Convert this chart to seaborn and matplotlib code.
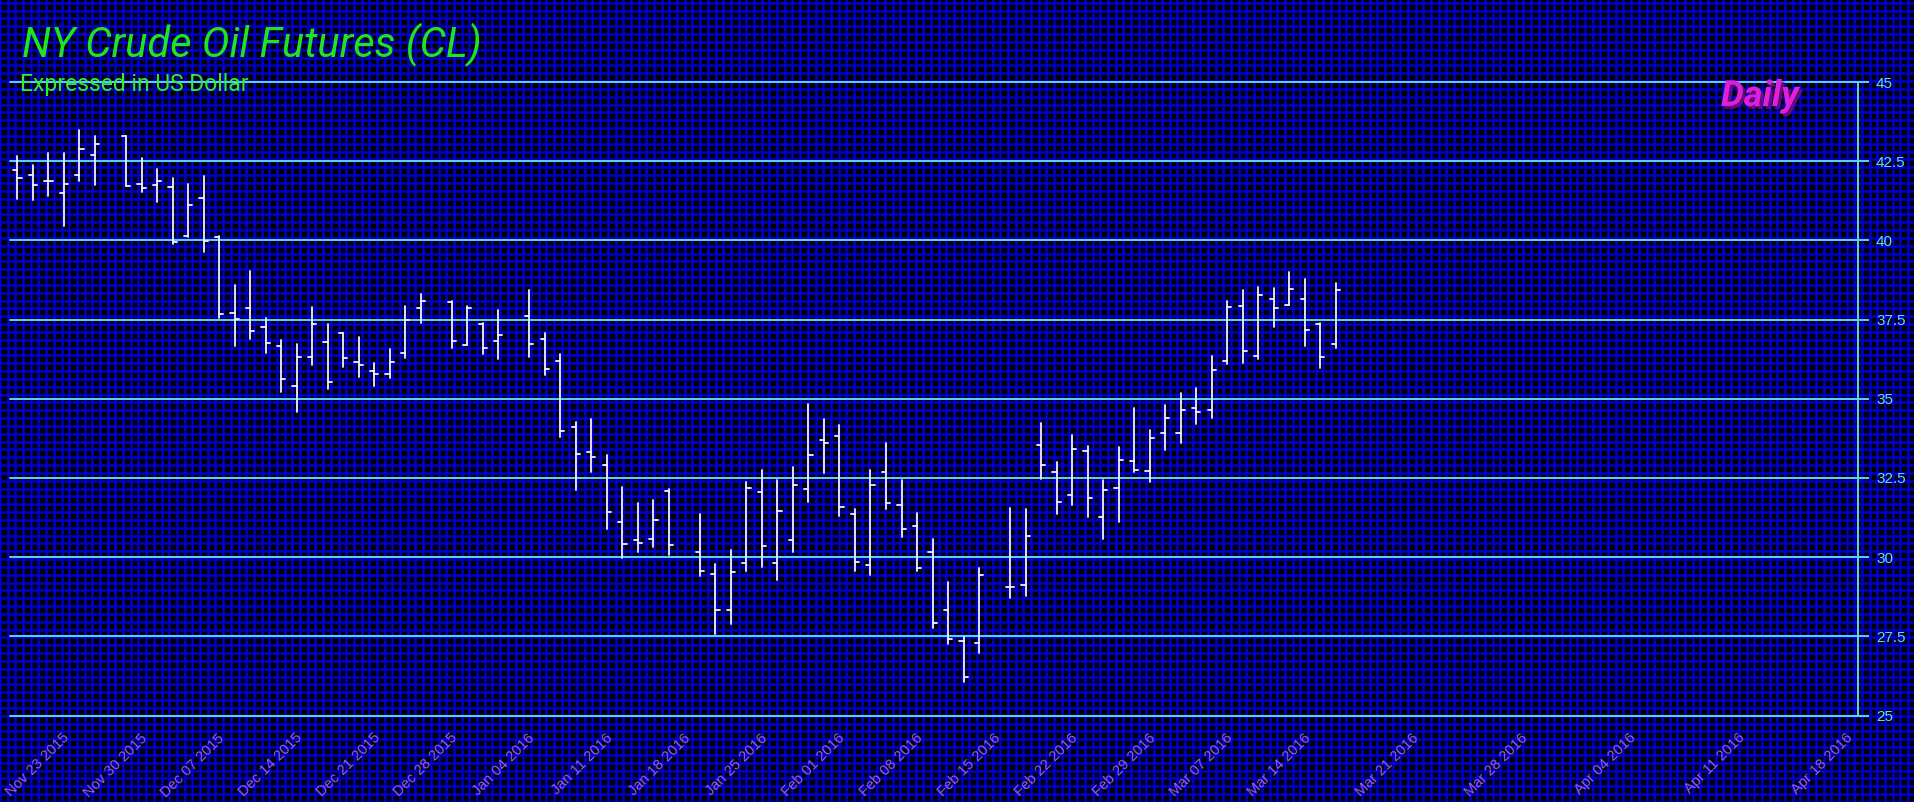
import numpy as np
import pandas as pd
import matplotlib
matplotlib.use("Agg")
import matplotlib.pyplot as plt
import seaborn as sns
from matplotlib import patheffects as pe

# ---------------- data ----------------
holidays = ["2015-11-26", "2015-12-25", "2016-01-01", "2016-01-18", "2016-02-15"]
first_day, last_day = "2015-11-18", "2016-03-16"

opens = [42.21, 42.06, 41.89, 41.51, 42.06, 42.69,
         43.30, 41.77, 41.74, 41.70, 40.15, 41.34, 40.12, 37.72, 37.87, 37.28, 36.65,
         35.41, 36.33, 36.80, 37.07, 36.15, 35.87, 35.79, 36.46, 37.85,
         38.04, 36.69, 37.35, 36.82,
         37.60, 36.90, 36.19, 34.11, 33.33, 32.92, 31.11, 30.55, 30.58, 32.10,
         30.15, 29.48, 28.33, 29.83, 32.05, 29.80, 30.53, 32.14, 33.69,
         33.82, 31.37, 29.75, 32.70, 31.65, 30.97, 30.15, 28.33, 27.34, 27.30,
         29.07, 29.12, 33.55, 32.68, 31.97, 33.36, 31.27, 32.17, 33.05,
         32.73, 33.92, 33.92, 34.72, 34.64, 36.19, 37.93, 36.35, 38.16, 37.95,
         38.16, 37.36, 36.74]
highs = [42.65, 42.37, 42.77, 42.77, 43.49, 43.28,
         43.30, 42.60, 42.25, 41.97, 41.78, 42.02, 40.14, 38.58, 39.03, 37.55, 36.86,
         36.73, 37.91, 37.36, 37.07, 36.95, 36.12, 36.57, 37.94, 38.30,
         38.10, 37.94, 37.39, 37.79,
         38.42, 37.09, 36.40, 34.28, 34.37, 33.21, 32.22, 31.71, 31.79, 32.15,
         31.35, 29.78, 30.24, 32.38, 32.74, 32.43, 32.83, 34.82, 34.37,
         34.18, 31.53, 32.76, 33.59, 32.44, 31.38, 30.58, 29.20, 27.47, 29.65,
         31.55, 31.52, 34.24, 33.00, 33.84, 33.52, 32.42, 33.48, 34.72,
         34.00, 34.79, 35.19, 35.33, 36.36, 38.10, 38.42, 38.52, 38.50, 39.01,
         38.77, 37.38, 38.65]
lows = [41.32, 41.28, 41.41, 40.46, 41.88, 41.76,
        41.72, 41.53, 41.22, 39.87, 40.12, 39.64, 37.55, 36.67, 36.90, 36.44, 35.22,
        34.58, 36.08, 35.32, 36.00, 35.70, 35.39, 35.66, 36.29, 37.39,
        36.60, 36.69, 36.42, 36.25,
        36.33, 35.74, 33.78, 32.13, 32.68, 30.90, 29.96, 30.15, 30.31, 30.06,
        29.39, 27.57, 27.88, 29.55, 29.70, 29.28, 30.16, 31.74, 32.66,
        31.30, 29.56, 29.42, 31.53, 30.64, 29.57, 27.76, 27.26, 26.07, 26.96,
        28.71, 28.76, 32.47, 31.37, 31.65, 31.27, 30.57, 31.10, 32.68,
        32.36, 33.38, 33.59, 34.20, 34.40, 36.10, 36.14, 36.26, 37.25, 37.95,
        36.68, 35.98, 36.60]
closes = [41.97, 41.74, 41.89, 41.77, 42.88, 43.04,
          41.72, 41.65, 41.86, 39.95, 41.11, 39.99, 37.67, 37.51, 37.15, 36.75, 35.62,
          36.33, 37.36, 35.52, 36.28, 36.07, 35.79, 36.15, 37.49, 38.08,
          36.82, 37.85, 36.59, 37.00,
          36.73, 35.95, 33.99, 33.27, 33.16, 31.41, 30.42, 30.46, 31.18, 30.39,
          29.55, 28.33, 29.53, 32.17, 30.36, 31.46, 32.27, 33.22, 33.61,
          31.58, 29.86, 32.27, 31.71, 30.90, 29.67, 27.93, 27.43, 26.21, 29.44,
          29.05, 30.67, 32.92, 31.73, 33.40, 31.86, 32.13, 33.08, 32.76,
          33.76, 34.39, 34.66, 34.57, 35.91, 37.89, 36.50, 38.28, 37.85, 38.48,
          37.18, 36.33, 38.44]

y_ticks = [25, 27.5, 30, 32.5, 35, 37.5, 40, 42.5, 45]
y_tick_labels = ["25", "27.5", "30", "32.5", "35", "37.5", "40", "42.5", "45"]
tick_dates = pd.date_range("2015-11-23", "2016-04-18", freq="7D")
tick_labels = [d.strftime("%b %d %Y") for d in tick_dates]

title = "NY Crude Oil Futures (CL)"
subtitle = "Expressed in US Dollar"
period = "Daily"

# ---------------- x scale: trading-day slots, calendar days after last bar ----
dates = pd.bdate_range(first_day, last_day)
dates = dates[~dates.isin(pd.to_datetime(holidays))]
base = np.datetime64("2015-11-23", "D")
last = np.datetime64(last_day, "D")


def slot(d):
    d = np.datetime64(pd.Timestamp(d).date(), "D")
    if d <= last:
        return float(np.busday_count(base, d))
    return float(np.busday_count(base, last)) + float((d - last).astype(int))


xs = np.array([slot(d) for d in dates]) + 0.1
tick_x = [slot(d) for d in tick_dates]

# long-form segments for seaborn
tw = 0.27
rows = []
for i, (x, o, h, l, c) in enumerate(zip(xs, opens, highs, lows, closes)):
    rows += [(x, l, 3 * i), (x, h, 3 * i),
             (x - tw, o, 3 * i + 1), (x, o, 3 * i + 1),
             (x, c, 3 * i + 2), (x + tw, c, 3 * i + 2)]
df = pd.DataFrame(rows, columns=["x", "price", "seg"])

# ---------------- figure ----------------
sns.set_theme(style="dark")
plt.rcParams["font.family"] = ["Liberation Sans", "DejaVu Sans"]

W, H = 1914, 802
fig = plt.figure(figsize=(W / 100, H / 100), dpi=100, facecolor="black")

ax_l, ax_r, ax_t, ax_b = 10, 1858, 82, 715.5
xmin, xmax = -3.38, 115.77
ymin, ymax = 25, 45

# background mesh covering the whole figure, aligned with the data scales
bg = fig.add_axes([0, 0, 1, 1], zorder=0)
bg.set_facecolor("black")
sx = (xmax - xmin) / (ax_r - ax_l)
sy = (ymax - ymin) / (ax_b - ax_t)
bx0, bx1 = xmin - ax_l * sx, xmax + (W - ax_r) * sx
by0, by1 = ymin - (H - ax_b) * sy, ymax + ax_t * sy
bg.set_xlim(bx0, bx1)
bg.set_ylim(by0, by1)
bg.set_xticks(np.arange(np.floor(bx0), bx1, 0.5))
bg.set_yticks(np.arange(np.floor(by0), by1, 0.25))
bg.grid(True, color="#0000cc", lw=1.8)
bg.tick_params(length=0, labelbottom=False, labelleft=False)
for s in bg.spines.values():
    s.set_visible(False)

ax = fig.add_axes([ax_l / W, (H - ax_b) / H, (ax_r - ax_l) / W, (ax_b - ax_t) / H], zorder=1)
ax.set_facecolor("none")

cyan = "#58d8ee"
for yv in y_ticks:
    ax.axhline(yv, color=cyan, lw=1.4, clip_on=False, zorder=1)

sns.lineplot(data=df, x="x", y="price", units="seg", estimator=None, sort=False,
             color="#f2f2ff", lw=1.3, ax=ax, legend=False, zorder=3)

ax.set_xlim(xmin, xmax)
ax.set_ylim(ymin, ymax)
ax.set_xlabel("")
ax.set_ylabel("")
ax.grid(False)

ax.yaxis.tick_right()
ax.set_yticks(y_ticks)
ax.set_yticklabels(y_tick_labels)
ax.tick_params(axis="y", which="major", direction="out", length=8, width=1.4,
               color=cyan, labelcolor="#5fe0f6", labelsize=11, pad=5, left=False, right=True)
ax.set_xticks(tick_x)
ax.set_xticklabels(tick_labels, rotation=45, ha="right", rotation_mode="anchor")
ax.tick_params(axis="x", which="major", direction="out", length=8, width=1,
               color="#8e9a86", labelcolor="#9a5ee8", labelsize=10.5, pad=3)

for name, s in ax.spines.items():
    s.set_visible(name == "right")
ax.spines["right"].set_color(cyan)
ax.spines["right"].set_linewidth(1.4)

# ---------------- texts ----------------
fig.text(22 / W, (H - 57) / H, title, color="#1fe51f", fontsize=30, style="italic",
         family=["Roboto", "DejaVu Sans"], ha="left", va="baseline", zorder=5)
fig.text(20 / W, (H - 91) / H, subtitle, color="#2ef02e", fontsize=16.5,
         family=["Roboto", "DejaVu Sans"], ha="left", va="baseline", zorder=5)
fig.text(1721 / W, (H - 106) / H, period, color="#e020d8", fontsize=26, style="italic",
         fontweight="bold", family=["Roboto", "DejaVu Sans"], ha="left", va="baseline",
         zorder=5, path_effects=[pe.withSimplePatchShadow(offset=(2, -2),
                                                          shadow_rgbFace="#7a1080", alpha=0.8)])

fig.savefig("out.png", dpi=100, facecolor="black")
